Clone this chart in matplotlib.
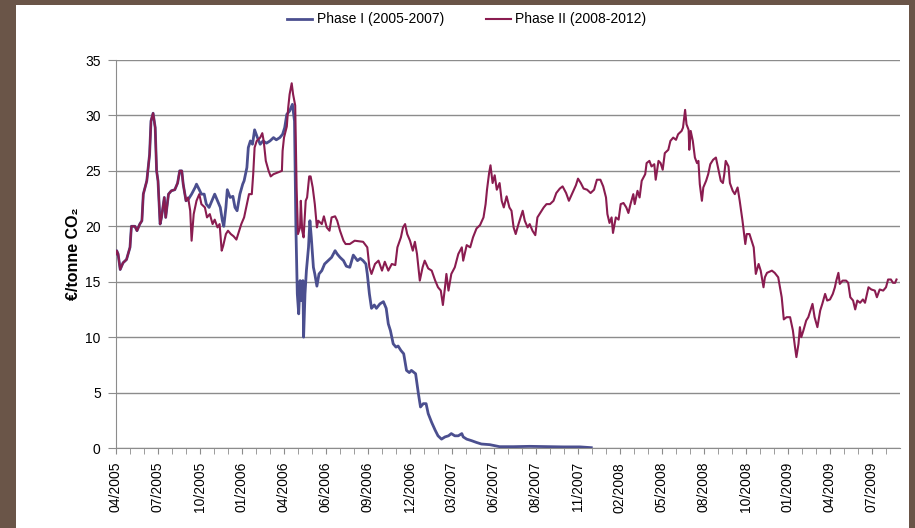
import matplotlib
matplotlib.use("Agg")
import matplotlib.pyplot as plt
from matplotlib.patches import Rectangle
import numpy as np

# x = trading-day index counted from the start of 04/2005
phase2_day = [0, 1, 3, 6, 10, 15, 20, 22, 27, 30, 34, 37, 39, 44, 48, 50, 53, 56, 58, 60,
              63, 65, 69, 71, 75, 79, 84, 88, 91, 94, 96, 100, 103, 106, 108, 111, 115, 119,
              122, 127, 130, 134, 138, 141, 145, 148, 151, 153, 157, 160, 164, 168, 172, 176,
              179, 183, 187, 190, 194, 196, 198, 201, 206, 209, 211, 214, 218, 221, 225, 229,
              237, 238, 240, 244, 246, 248, 251, 253, 256, 258, 260, 263, 264, 266, 268, 271,
              273, 276, 278, 281, 284, 287, 289, 294, 297, 301, 305, 308, 313, 316, 320, 325,
              328, 334, 341, 353, 359, 362, 365, 370, 375, 380, 384, 389, 394, 399, 402, 407,
              410, 413, 416, 420, 424, 427, 430, 434, 438, 441, 446, 451, 456, 460, 464, 467,
              470, 472, 475, 479, 484, 489, 494, 496, 501, 506, 510, 515, 520, 525, 528, 530,
              533, 535, 538, 541, 544, 548, 551, 554, 558, 562, 565, 568, 571, 575, 578, 581,
              584, 588, 591, 595, 599, 602, 607, 611, 615, 620, 625, 629, 634, 638, 643, 647,
              652, 657, 660, 664, 668, 673, 678, 683, 687, 692, 696, 700, 702, 705, 708, 710,
              714, 718, 721, 725, 729, 732, 735, 739, 741, 745, 748, 751, 756, 758, 762, 765,
              769, 771, 775, 778, 781, 784, 789, 792, 796, 800, 803, 808, 810, 813, 815, 818,
              819, 821, 824, 827, 830, 832, 834, 837, 839, 843, 846, 849, 853, 857, 860, 864,
              867, 869, 871, 875, 877, 881, 884, 888, 891, 895, 899, 901, 905, 908, 911, 914,
              918, 921, 925, 927, 930, 937, 941, 946, 951, 954, 958, 963, 967, 970, 972, 975,
              977, 979, 982, 986, 989, 992, 995, 998, 1002, 1006, 1009, 1013, 1016, 1020, 1024,
              1027, 1029, 1032, 1034, 1038, 1043, 1046, 1049, 1053, 1056, 1059, 1063, 1067,
              1070, 1075, 1079, 1084, 1087, 1091, 1096, 1100, 1103, 1107, 1110, 1113, 1115]
phase2_price = [17.5, 17.8, 17.5, 16.1, 16.7, 17.0, 18.1, 20.0, 20.0, 19.6, 20.2, 20.5, 22.9,
                24.1, 26.5, 29.5, 30.2, 28.9, 25.0, 24.1, 20.2, 20.8, 22.6, 20.8, 22.9, 23.2,
                23.3, 23.9, 25.0, 25.0, 23.8, 22.3, 22.6, 21.4, 18.7, 21.1, 22.3, 22.9, 22.0,
                21.7, 20.8, 21.1, 20.2, 20.6, 19.9, 20.2, 17.8, 18.2, 19.3, 19.6, 19.3, 19.1,
                18.8, 19.6, 20.2, 20.8, 22.0, 22.9, 22.9, 24.7, 27.1, 27.7, 28.0, 28.4, 27.7,
                25.9, 25.0, 24.5, 24.7, 24.8, 25.0, 26.8, 28.0, 29.0, 30.7, 31.9, 32.9, 31.9,
                30.9, 23.5, 19.3, 19.9, 22.3, 19.6, 19.0, 22.3, 22.6, 24.5, 24.5, 23.5, 22.0,
                19.9, 20.5, 20.2, 20.9, 19.9, 19.6, 20.8, 20.9, 20.5, 19.6, 18.7, 18.4, 18.4,
                18.7, 18.6, 18.1, 16.3, 15.7, 16.6, 16.9, 16.0, 16.8, 16.0, 16.6, 16.5, 18.1,
                19.0, 19.9, 20.2, 19.3, 18.7, 17.8, 18.6, 17.5, 15.1, 16.3, 16.9, 16.2, 16.0,
                15.1, 14.5, 14.2, 12.9, 14.5, 15.7, 14.2, 15.7, 16.3, 17.5, 18.1, 16.9, 18.3,
                18.1, 19.0, 19.8, 20.1, 20.8, 22.0, 23.3, 24.8, 25.5, 23.9, 24.6, 23.3, 23.9,
                22.3, 21.7, 22.7, 21.7, 21.4, 19.9, 19.3, 20.2, 20.8, 21.4, 20.5, 19.9, 20.2,
                19.6, 19.2, 20.8, 21.3, 21.7, 22.0, 22.0, 22.3, 23.0, 23.4, 23.6, 23.0, 22.3,
                23.0, 23.7, 24.3, 23.9, 23.4, 23.3, 23.0, 23.3, 24.2, 24.2, 23.6, 22.6, 21.1,
                20.3, 20.8, 19.4, 20.8, 20.6, 22.0, 22.1, 21.7, 21.2, 22.0, 22.9, 22.0, 23.2,
                22.6, 24.1, 24.7, 25.7, 25.9, 25.4, 25.6, 24.2, 25.9, 25.7, 25.1, 26.6, 26.9,
                27.7, 28.0, 27.8, 28.3, 28.6, 28.9, 30.5, 29.2, 28.7, 26.9, 28.6, 27.7, 26.2,
                25.7, 25.9, 23.8, 22.3, 23.5, 24.1, 24.7, 25.6, 26.0, 26.2, 25.3, 24.1, 23.9,
                24.7, 25.9, 25.4, 23.9, 23.2, 22.9, 23.5, 22.3, 20.5, 18.4, 19.3, 19.3, 18.7,
                18.1, 15.7, 16.6, 16.0, 14.5, 15.4, 15.8, 16.0, 15.8, 15.4, 13.6, 11.6, 11.8,
                11.8, 10.6, 9.1, 8.2, 9.4, 10.9, 10.0, 10.6, 11.5, 11.8, 12.4, 13.0, 11.8, 10.9,
                12.4, 13.0, 13.9, 13.3, 13.4, 13.9, 14.5, 15.1, 15.8, 14.8, 15.1, 15.1, 14.9,
                13.6, 13.3, 12.5, 13.3, 13.1, 13.4, 13.1, 14.5, 14.3, 14.2, 13.6, 14.3, 14.2,
                14.5, 15.2, 15.2, 14.9, 14.9, 15.2]

phase1_day = [0, 1, 3, 6, 10, 15, 20, 22, 27, 30, 34, 37, 39, 44, 48, 50, 53, 56, 58, 60,
              63, 65, 69, 71, 75, 79, 84, 88, 91, 94, 96, 100, 103, 108, 113, 115, 119, 122,
              126, 129, 133, 137, 141, 145, 149, 152, 154, 157, 159, 163, 167, 170, 173, 177,
              181, 183, 187, 189, 192, 195, 198, 202, 206, 210, 215, 220, 225, 229, 234, 238,
              241, 244, 248, 252, 255, 257, 259, 261, 263, 265, 267, 268, 270, 272, 275, 277,
              279, 282, 284, 287, 290, 294, 298, 303, 308, 313, 316, 320, 325, 329, 334, 339,
              345, 349, 353, 357, 359, 362, 365, 369, 372, 377, 382, 386, 389, 392, 396, 400,
              403, 407, 411, 415, 419, 422, 426, 428, 432, 435, 439, 443, 446, 451, 456, 460,
              465, 470, 475, 479, 484, 489, 494, 496, 501, 508, 515, 522, 534, 548, 568, 591,
              615, 639, 663, 679]
phase1_price = [17.5, 17.8, 17.5, 16.1, 16.7, 17.0, 18.1, 20.0, 20.0, 19.6, 20.2, 20.5, 22.9,
                24.1, 26.5, 29.5, 30.2, 28.9, 25.0, 24.1, 20.2, 20.8, 22.6, 20.8, 22.9, 23.2,
                23.3, 23.9, 25.0, 25.0, 23.8, 22.3, 22.4, 22.9, 23.5, 23.8, 23.3, 22.9, 22.9,
                22.0, 21.7, 22.3, 22.9, 22.3, 21.7, 20.5, 20.0, 21.7, 23.3, 22.6, 22.7, 21.7,
                21.4, 22.9, 23.8, 24.1, 25.3, 27.1, 27.7, 27.4, 28.7, 28.0, 27.4, 27.7, 27.5,
                27.7, 28.0, 27.8, 28.0, 28.3, 28.9, 30.1, 30.4, 31.0, 29.5, 19.9, 13.9, 12.1,
                15.1, 13.3, 15.1, 10.0, 13.9, 16.0, 18.1, 20.5, 19.0, 16.3, 15.7, 14.6, 15.7,
                16.0, 16.6, 16.9, 17.2, 17.8, 17.5, 17.2, 16.9, 16.4, 16.3, 17.4, 16.9, 17.1,
                16.9, 16.6, 15.7, 13.9, 12.6, 12.9, 12.6, 13.0, 13.2, 12.6, 11.2, 10.6, 9.4,
                9.1, 9.2, 8.8, 8.5, 7.0, 6.8, 7.0, 6.8, 6.7, 4.9, 3.7, 4.0, 4.0, 3.1, 2.3, 1.6,
                1.1, 0.8, 1.0, 1.1, 1.3, 1.1, 1.1, 1.3, 1.0, 0.8, 0.66, 0.5, 0.36, 0.3, 0.12,
                0.12, 0.15, 0.12, 0.1, 0.1, 0.03]

month_labels = ["04/2005", "07/2005", "10/2005", "01/2006", "04/2006", "06/2006", "09/2006",
                "12/2006", "03/2007", "06/2007", "08/2007", "11/2007", "02/2008", "05/2008",
                "08/2008", "10/2008", "01/2009", "04/2009", "07/2009"]

plt.rcParams["font.family"] = ["Liberation Sans", "DejaVu Sans"]

fig = plt.figure(figsize=(9.15, 5.28), dpi=100, facecolor="#6a5548")
fig.patches.append(Rectangle((16 / 915, 0), 893 / 915, 523 / 528, transform=fig.transFigure,
                             facecolor="white", edgecolor="none", zorder=-10))
ax = fig.add_axes([116 / 915, 1 - 448 / 528, 784 / 915, 388 / 528])
ax.set_facecolor("none")

ax.plot(phase1_day, phase1_price, color="#4b4f8f", lw=2.0, label="Phase I (2005-2007)", zorder=3)
ax.plot(phase2_day, phase2_price, color="#8a1c50", lw=1.5, label="Phase II (2008-2012)", zorder=4)

ax.set_xlim(0, 1120)
ax.set_ylim(0, 35)
ax.set_yticks(np.arange(0, 36, 5))
ax.yaxis.grid(True, color="#8c8c8c", lw=1.0)
ax.set_axisbelow(True)
ax.set_xticks(np.arange(len(month_labels)) * 60)
ax.set_xticklabels(month_labels, rotation=90)
ax.set_xticks(np.arange(0, 1101, 20), minor=True)
for s in ["top", "right"]:
    ax.spines[s].set_visible(False)
for s in ["left", "bottom"]:
    ax.spines[s].set_color("#8c8c8c")
ax.tick_params(axis="both", which="both", colors="#8c8c8c", labelcolor="black", length=5,
               labelsize=10)
ax.tick_params(axis="x", which="both", direction="out", length=4, pad=6)
ax.tick_params(axis="y", direction="out", length=6, pad=5)
ax.set_ylabel("€/tonne CO₂", fontsize=11.5, fontweight="bold", labelpad=3)

leg = fig.legend(loc="upper center", bbox_to_anchor=(0.51, 1.0), ncol=2, frameon=False,
                 fontsize=10, handlelength=1.8, columnspacing=3.0, handletextpad=0.3)

fig.savefig("out.png", dpi=100, facecolor=fig.get_facecolor())
